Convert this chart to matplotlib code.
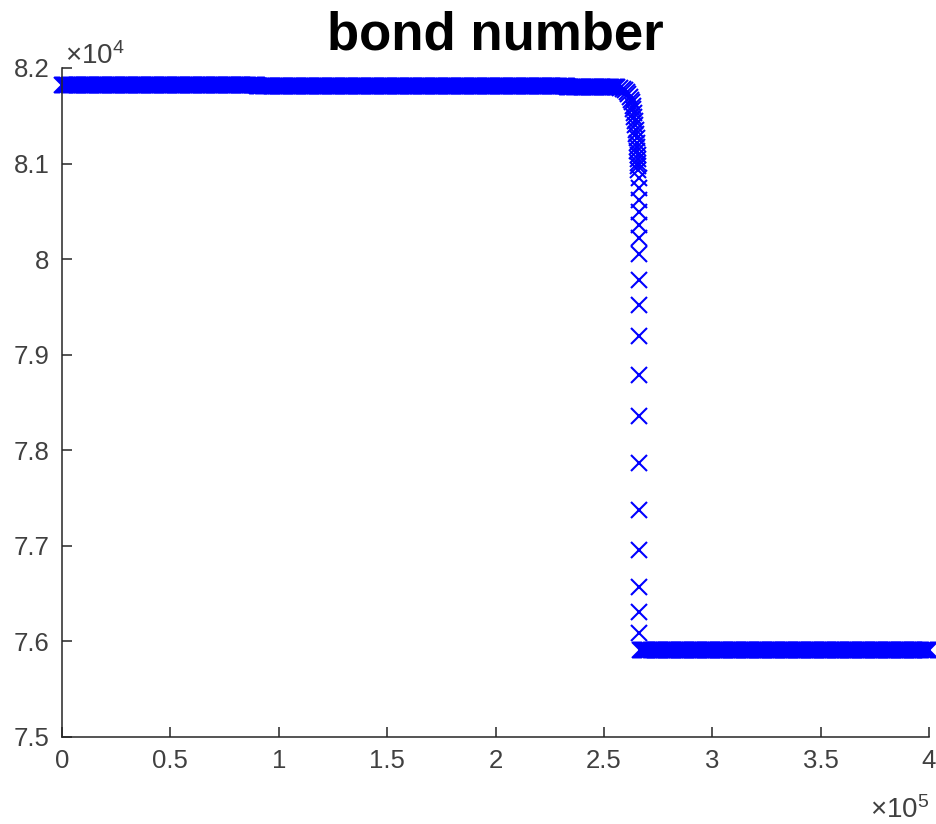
import numpy as np
import matplotlib
matplotlib.use("Agg")
import matplotlib.pyplot as plt

plt.rcParams['font.family'] = ['Liberation Sans', 'DejaVu Sans']
plt.rcParams['mathtext.fontset'] = 'custom'
plt.rcParams['mathtext.rm'] = 'Liberation Sans'
plt.rcParams['mathtext.it'] = 'Liberation Sans'

# --- data (x in units of 1e5, y in units of 1e4) ---
sample_step = 0.005          # spacing of the recorded samples (x1e5)

# upper plateau: (start, end, level)
upper_segments = [
    (0.000, 0.900, 8.1827),
    (0.900, 2.330, 8.1815),
    (2.330, 2.555, 8.1802),
]

# knee and drop of the bond number
drop_x = [2.560, 2.575, 2.588, 2.598, 2.606, 2.613, 2.619, 2.624, 2.628,
          2.632, 2.635, 2.638, 2.641, 2.643, 2.645, 2.647, 2.649, 2.651,
          2.652, 2.653, 2.654, 2.655, 2.656, 2.657, 2.658, 2.659,
          2.660, 2.660, 2.661, 2.661, 2.661, 2.662, 2.662, 2.662, 2.662,
          2.662, 2.662, 2.662, 2.662, 2.662, 2.662, 2.662, 2.662, 2.662]
drop_y = [8.1800, 8.1795, 8.1785, 8.1770, 8.1750, 8.1725, 8.1700, 8.1670,
          8.1640, 8.1605, 8.1570, 8.1530, 8.1490, 8.1445, 8.1400, 8.1355,
          8.1310, 8.1265, 8.1220, 8.1175, 8.1130, 8.1090, 8.1050, 8.1010,
          8.0970, 8.0930,
          8.085, 8.074, 8.062, 8.049, 8.036, 8.022, 8.005, 7.978, 7.952,
          7.920, 7.879, 7.836, 7.787, 7.738, 7.696, 7.657, 7.631, 7.609]

# lower plateau: (start, end, level)
lower_segments = [
    (2.665, 4.000, 7.5910),
]

xticks = [0, 0.5, 1, 1.5, 2, 2.5, 3, 3.5, 4]
xticklabels = ['0', '0.5', '1', '1.5', '2', '2.5', '3', '3.5', '4']
yticks = [7.5, 7.6, 7.7, 7.8, 7.9, 8.0, 8.1, 8.2]
yticklabels = ['7.5', '7.6', '7.7', '7.8', '7.9', '8', '8.1', '8.2']


def plateau(segments):
    xs, ys = [], []
    for x0, x1, level in segments:
        seg_x = np.arange(x0, x1 + 1e-9, sample_step)
        xs.append(seg_x)
        ys.append(np.full_like(seg_x, level))
    return np.concatenate(xs), np.concatenate(ys)


ux, uy = plateau(upper_segments)
lx, ly = plateau(lower_segments)
x = np.concatenate([ux, np.array(drop_x), lx])
y = np.concatenate([uy, np.array(drop_y), ly])

fig = plt.figure(figsize=(9.37, 8.24), dpi=100)
ax = fig.add_axes([0.0662, 0.1056, 0.9253, 0.8119])

ax.plot(x, y, linestyle='none', marker='x', color='#0000ff',
        markersize=11, markeredgewidth=1.5, clip_on=False)

ax.set_xlim(0, 4)
ax.set_ylim(7.5, 8.2)
ax.set_xticks(xticks)
ax.set_xticklabels(xticklabels)
ax.set_yticks(yticks)
ax.set_yticklabels(yticklabels)

grey = '#404040'
for side in ('top', 'right'):
    ax.spines[side].set_visible(False)
for side in ('left', 'bottom'):
    ax.spines[side].set_color('#262626')
    ax.spines[side].set_linewidth(1.1)

ax.tick_params(direction='in', length=7, width=1.1, color='#262626',
               labelcolor=grey, labelsize=18.5)
ax.tick_params(axis='x', pad=9)
ax.tick_params(axis='y', pad=9)

ax.text(0.003, 1.006, r'$\times10^{4}$', transform=ax.transAxes,
        ha='left', va='baseline', fontsize=20, color=grey)
ax.text(1.0, -0.121, r'$\times10^{5}$', transform=ax.transAxes,
        ha='right', va='baseline', fontsize=20, color=grey)

ax.set_title('bond number', fontsize=38, fontweight='bold', color='black',
             pad=13)

fig.savefig('out.png', dpi=100)
